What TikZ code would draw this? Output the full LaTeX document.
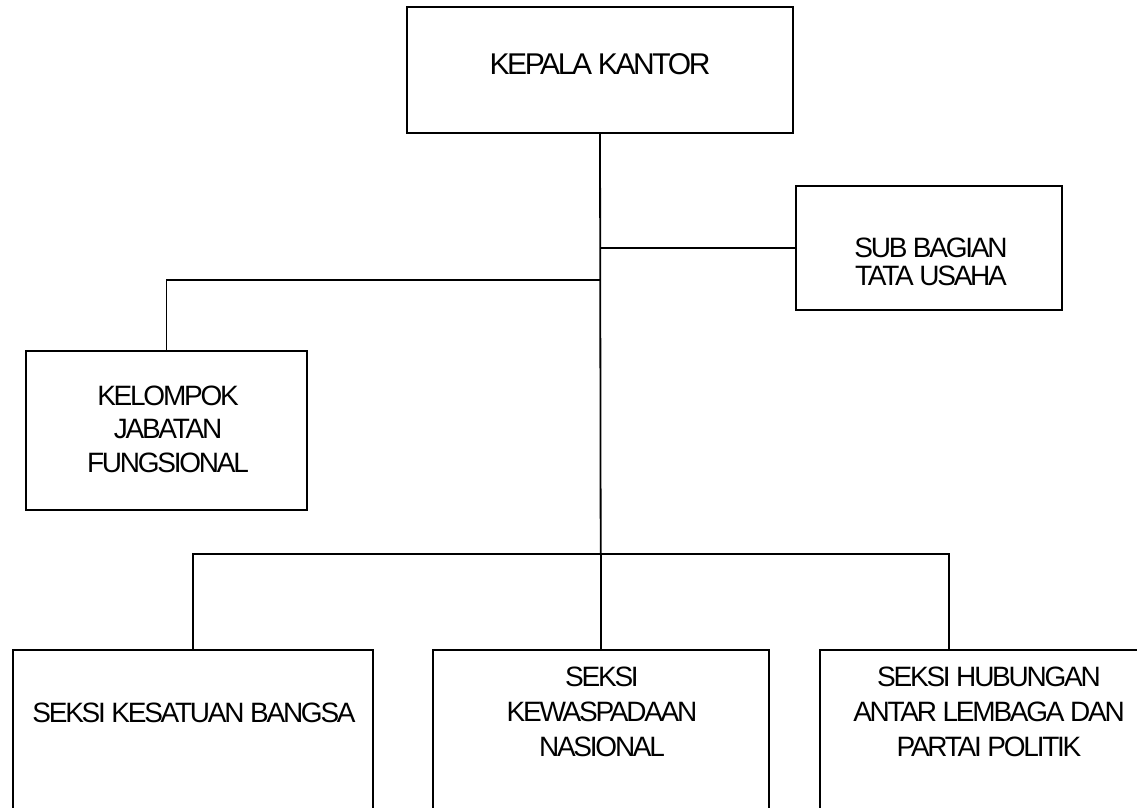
\documentclass[tikz,border=0pt]{standalone}
\usepackage{fontspec}
\setmainfont[LetterSpace=-8]{Liberation Sans}

\begin{document}
\begin{tikzpicture}[x=1pt,y=-1pt,line width=1.8pt,
    unit/.style={draw,rectangle,inner sep=0pt,outer sep=0pt},
    lbl/.style={align=center,inner sep=0pt,font=\fontsize{28}{35}\selectfont}]
    \useasboundingbox (0,0) rectangle (1137,807);
    \clip (0,0) rectangle (1137,807);

    \node[unit,minimum width=386pt,minimum height=126pt] (kk) at (600,70) {};
    \node[unit,minimum width=266pt,minimum height=124pt] (sbtu) at (929,248) {};
    \node[unit,minimum width=281pt,minimum height=159pt] (kjf) at (166.5,430.5) {};
    \node[unit,minimum width=360pt,minimum height=200pt] (skb) at (192.7,750) {};
    \node[unit,minimum width=336pt,minimum height=200pt] (skn) at (600.7,750) {};
    \node[unit,minimum width=338pt,minimum height=200pt] (shal) at (989,750) {};

    \node[lbl,font=\fontsize{30}{36}\selectfont] (kk-t) at (600,64) {KEPALA KANTOR};
    \node[lbl,font=\fontsize{28}{28}\selectfont] (sbtu-t) at (931,261.5) {SUB BAGIAN\\TATA USAHA};
    \node[lbl,font=\fontsize{28}{33.5}\selectfont] (kjf-t) at (168,429) {KELOMPOK\\JABATAN\\FUNGSIONAL};
    \node[lbl] (skb-t) at (194,713) {SEKSI KESATUAN BANGSA};
    \node[lbl] (skn-t) at (602,712) {SEKSI\\KEWASPADAAN\\NASIONAL};
    \node[lbl] (shal-t) at (989,712) {SEKSI HUBUNGAN\\ANTAR LEMBAGA DAN\\PARTAI POLITIK};

    \coordinate (ts) at (600.7,248);
    \coordinate (fk) at (600.7,280);
    \coordinate (bus) at (600.7,554);
    \coordinate (shal-in) at (949,650);

    \draw (kk.south) -- (bus);
    \draw (ts) -- (sbtu.west);
    \draw (fk) -| (kjf.north);
    \draw (skb.north) |- (bus) -| (shal-in);
    \draw (bus) -- (skn.north);
\end{tikzpicture}
\end{document}
